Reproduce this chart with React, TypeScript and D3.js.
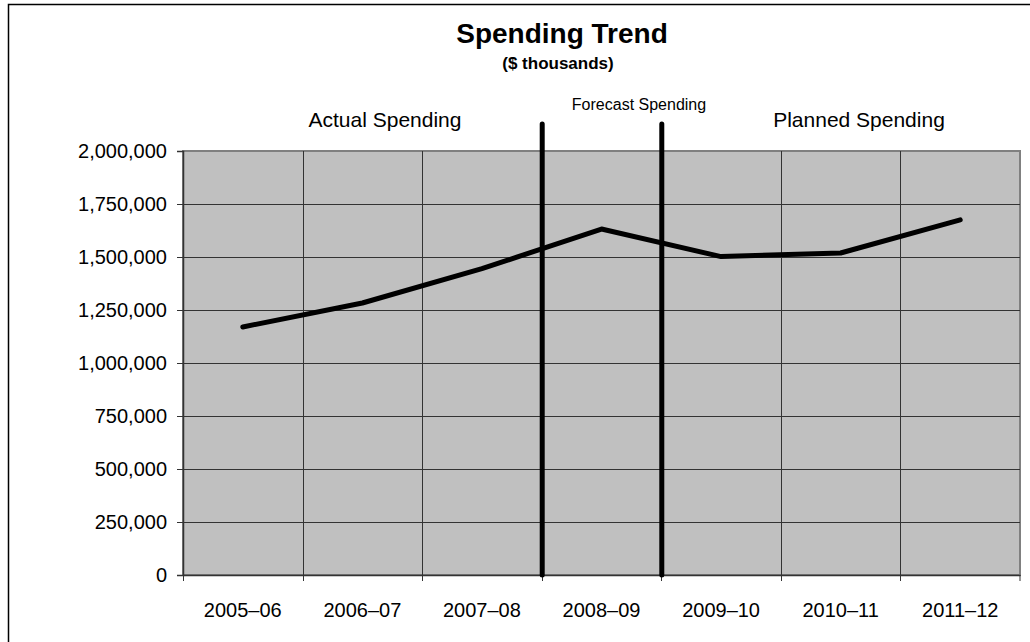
import React, { useRef, useEffect } from "react";
import * as d3 from "d3";

const categories = ["2005–06", "2006–07", "2007–08", "2008–09", "2009–10", "2010–11", "2011–12"];
const spending = [1170000, 1283000, 1445000, 1632000, 1502000, 1519000, 1675000];
const yTicks = [0, 250000, 500000, 750000, 1000000, 1250000, 1500000, 1750000, 2000000];
// boundaries where forecast period starts / ends
const dividers = ["2008–09", "2009–10"];
const periodLabels = ["Actual Spending", "Forecast Spending", "Planned Spending"];

const W = 1030;
const H = 642;
const FONT = "'Liberation Sans', Arial, sans-serif";

export default function App() {
    const svgRef = useRef<SVGSVGElement>(null);

    useEffect(() => {
        if (!svgRef.current) return;
        const svg = d3.select(svgRef.current);
        svg.selectAll("*").remove();

        const margin = { top: 151, right: 10, bottom: 67, left: 183 };

        const x = d3
            .scaleBand()
            .domain(categories)
            .range([margin.left, W - margin.right])
            .paddingInner(0)
            .paddingOuter(0);

        const y = d3
            .scaleLinear()
            .domain([0, 2000000])
            .range([H - margin.bottom, margin.top]);

        // outer frame
        svg.append("rect")
            .attr("x", 8.5)
            .attr("y", 4.5)
            .attr("width", W)
            .attr("height", H)
            .attr("fill", "white")
            .attr("stroke", "black")
            .attr("stroke-width", 1.5);

        // plot area
        svg.append("rect")
            .attr("x", margin.left)
            .attr("y", margin.top)
            .attr("width", W - margin.right - margin.left)
            .attr("height", H - margin.bottom - margin.top)
            .attr("fill", "#c0c0c0")
            .attr("stroke", "#808080")
            .attr("stroke-width", 2);

        // horizontal gridlines
        svg.append("g")
            .selectAll("line")
            .data(yTicks.slice(1, -1))
            .join("line")
            .attr("x1", margin.left)
            .attr("x2", W - margin.right)
            .attr("y1", (d) => Math.round(y(d)) + 0.5)
            .attr("y2", (d) => Math.round(y(d)) + 0.5)
            .attr("stroke", "#333")
            .attr("stroke-width", 1);

        // vertical gridlines at category boundaries
        svg.append("g")
            .selectAll("line")
            .data(categories.slice(1))
            .join("line")
            .attr("x1", (d) => Math.round(x(d) || 0) + 0.5)
            .attr("x2", (d) => Math.round(x(d) || 0) + 0.5)
            .attr("y1", margin.top)
            .attr("y2", H - margin.bottom)
            .attr("stroke", "#333")
            .attr("stroke-width", 1);

        // y axis
        const yAxis = svg
            .append("g")
            .attr("transform", `translate(${margin.left},0)`)
            .call(
                d3.axisLeft(y)
                    .tickValues(yTicks)
                    .tickSize(6)
                    .tickFormat((d) => d3.format(",")(d as number))
            );
        yAxis.select(".domain").attr("stroke", "#333").attr("stroke-width", 1.5);
        yAxis.selectAll(".tick line").attr("stroke", "#333");
        yAxis.selectAll("text")
            .attr("font-family", FONT)
            .attr("font-size", 20)
            .attr("fill", "black")
            .attr("x", -16);

        // x axis
        const xAxis = svg
            .append("g")
            .attr("transform", `translate(0,${H - margin.bottom})`)
            .call(d3.axisBottom(x).tickSize(0).tickSizeOuter(0));
        xAxis.select(".domain").attr("stroke", "#333").attr("stroke-width", 1.5);
        xAxis.selectAll("text")
            .attr("font-family", FONT)
            .attr("font-size", 20)
            .attr("fill", "black")
            .attr("dy", 0)
            .attr("y", 42);
        // x boundary ticks
        svg.append("g")
            .selectAll("line")
            .data([...categories, "end"])
            .join("line")
            .attr("x1", (d) => (d === "end" ? W - margin.right : Math.round(x(d) || 0) + 0.5))
            .attr("x2", (d) => (d === "end" ? W - margin.right : Math.round(x(d) || 0) + 0.5))
            .attr("y1", H - margin.bottom)
            .attr("y2", H - margin.bottom + 6)
            .attr("stroke", "#333");

        // spending line
        const line = d3
            .line<number>()
            .x((d, i) => (x(categories[i]) || 0) + x.bandwidth() / 2)
            .y((d) => y(d));
        svg.append("path")
            .datum(spending)
            .attr("d", line)
            .attr("fill", "none")
            .attr("stroke", "black")
            .attr("stroke-width", 5)
            .attr("stroke-linejoin", "round")
            .attr("stroke-linecap", "round");

        // period dividers
        svg.append("g")
            .selectAll("line")
            .data(dividers)
            .join("line")
            .attr("x1", (d) => (x(d) || 0) + 0.5)
            .attr("x2", (d) => (x(d) || 0) + 0.5)
            .attr("y1", 124)
            .attr("y2", H - margin.bottom)
            .attr("stroke", "black")
            .attr("stroke-width", 5)
            .attr("stroke-linecap", "round");

        // title
        svg.append("text")
            .attr("x", 562)
            .attr("y", 43)
            .attr("text-anchor", "middle")
            .attr("font-family", FONT)
            .attr("font-weight", "bold")
            .attr("font-size", 28)
            .text("Spending Trend");
        svg.append("text")
            .attr("x", 558)
            .attr("y", 69)
            .attr("text-anchor", "middle")
            .attr("font-family", FONT)
            .attr("font-weight", "bold")
            .attr("font-size", 17)
            .text("($ thousands)");

        // period labels
        const labelPos = [
            { x: 385, y: 127, size: 21 },
            { x: 639, y: 110, size: 16 },
            { x: 859, y: 127, size: 21 },
        ];
        svg.append("g")
            .selectAll("text")
            .data(periodLabels)
            .join("text")
            .attr("x", (d, i) => labelPos[i].x)
            .attr("y", (d, i) => labelPos[i].y)
            .attr("text-anchor", "middle")
            .attr("font-family", FONT)
            .attr("font-size", (d, i) => labelPos[i].size)
            .text((d) => d);
    }, []);

    return (
        <svg
            ref={svgRef}
            width={W}
            height={H}
            style={{ position: "absolute", left: 0, top: 0 }}
        />
    );
}
